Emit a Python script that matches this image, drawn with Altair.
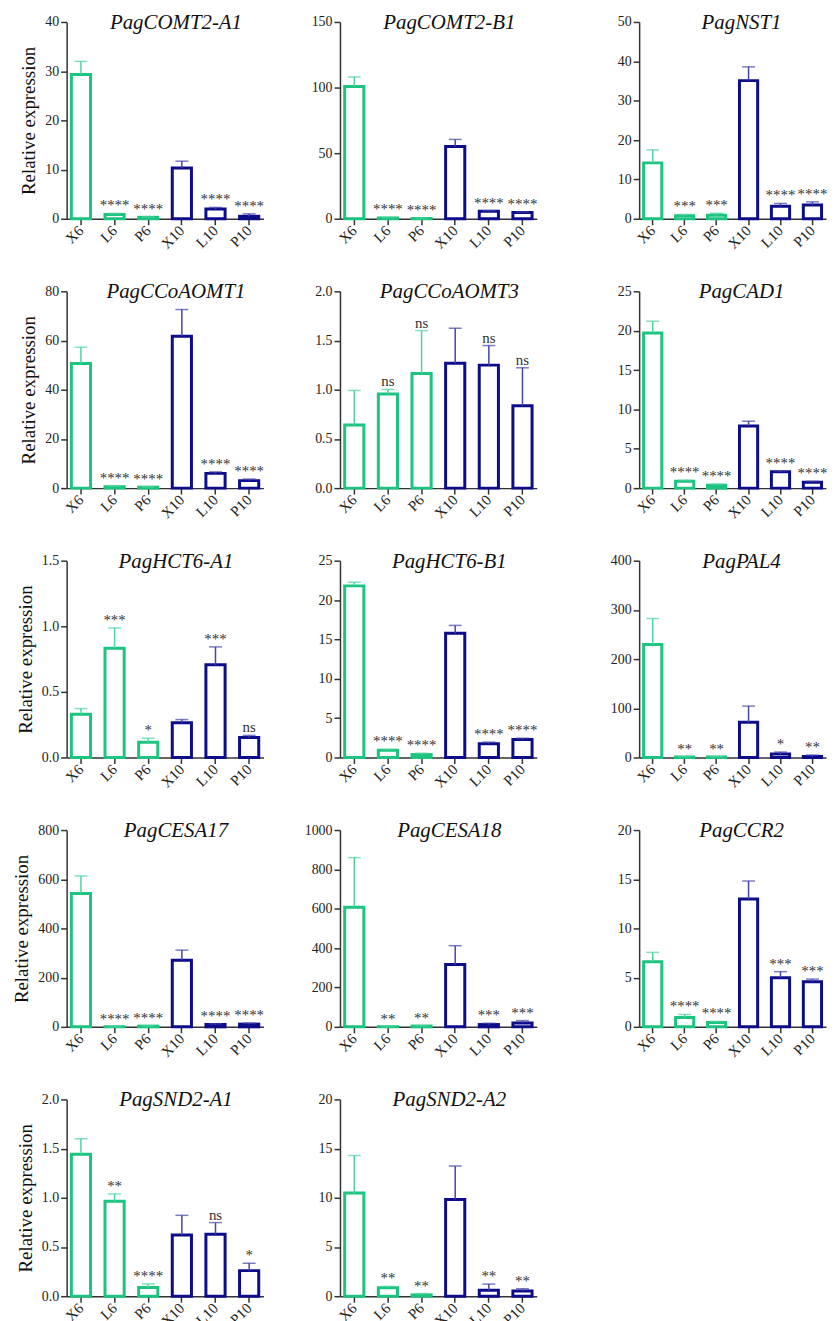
import altair as alt
import pandas as pd
import numpy as np

categories = ["X6", "L6", "P6", "X10", "L10", "P10"]
groups = ["6", "6", "6", "10", "10", "10"]

genes = ["PagCOMT2-A1", "PagCOMT2-B1", "PagNST1",
         "PagCCoAOMT1", "PagCCoAOMT3", "PagCAD1",
         "PagHCT6-A1", "PagHCT6-B1", "PagPAL4",
         "PagCESA17", "PagCESA18", "PagCCR2",
         "PagSND2-A1", "PagSND2-A2"]

means = [
    [29.3, 0.85, 0.3, 10.3, 2.0, 0.5],
    [100.9, 0.5, 0.2, 55.1, 5.7, 4.7],
    [14.2, 0.8, 0.9, 35.1, 3.2, 3.5],
    [50.7, 0.6, 0.4, 61.7, 6.0, 3.05],
    [0.642, 0.956, 1.166, 1.27, 1.25, 0.838],
    [19.7, 0.87, 0.37, 7.9, 2.07, 0.75],
    [0.33, 0.832, 0.117, 0.264, 0.706, 0.152],
    [21.8, 0.91, 0.37, 15.78, 1.74, 2.28],
    [229.6, 1.0, 1.0, 71.5, 6.9, 2.1],
    [541.6, 0.5, 3.0, 270.8, 9.7, 11.0],
    [607.7, 0.5, 4.0, 317.2, 11.7, 20.0],
    [6.61, 0.96, 0.43, 12.99, 4.98, 4.58],
    [1.442, 0.964, 0.088, 0.623, 0.629, 0.26],
    [10.48, 0.86, 0.13, 9.82, 0.6, 0.53],
]

uppers = [
    [32.0, 1.1, 0.35, 11.7, 2.3, 1.0],
    [108.1, 1.0, 0.3, 60.5, 6.2, 5.2],
    [17.5, 1.1, 1.4, 38.6, 3.9, 4.3],
    [57.3, 0.8, 0.5, 72.6, 6.6, 3.7],
    [0.993, 1.003, 1.601, 1.625, 1.449, 1.223],
    [21.2, 1.0, 0.5, 8.5, 2.2, 0.87],
    [0.373, 0.987, 0.147, 0.289, 0.843, 0.168],
    [22.26, 1.04, 0.54, 16.78, 1.95, 2.45],
    [282.5, 1.5, 1.5, 104.5, 11.0, 4.8],
    [613.5, 1.0, 4.0, 312.0, 12.4, 15.2],
    [859.8, 1.0, 6.0, 412.4, 18.4, 31.7],
    [7.57, 1.26, 0.56, 14.82, 5.61, 4.85],
    [1.6, 1.039, 0.125, 0.822, 0.748, 0.335],
    [14.3, 1.0, 0.27, 13.23, 1.23, 0.76],
]

sigs = [
    ["", "****", "****", "", "****", "****"],
    ["", "****", "****", "", "****", "****"],
    ["", "***", "***", "", "****", "****"],
    ["", "****", "****", "", "****", "****"],
    ["", "ns", "ns", "", "ns", "ns"],
    ["", "****", "****", "", "****", "****"],
    ["", "***", "*", "", "***", "ns"],
    ["", "****", "****", "", "****", "****"],
    ["", "**", "**", "", "*", "**"],
    ["", "****", "****", "", "****", "****"],
    ["", "**", "**", "", "***", "***"],
    ["", "****", "****", "", "***", "***"],
    ["", "**", "****", "", "ns", "*"],
    ["", "**", "**", "", "**", "**"],
]

ymax = [40, 150, 50, 80, 2.0, 25, 1.5, 25, 400, 800, 1000, 20, 2.0, 20]
ystep = [10, 50, 10, 20, 0.5, 5, 0.5, 5, 100, 200, 200, 5, 0.5, 5]

GREEN = "#1CC47F"
NAVY = "#0D0D8A"
GREEN_E = "#4FD4A0"
NAVY_E = "#4545A8"
FONT = "Liberation Serif"
W = 198
W3 = 188
H = 198

xaxis = alt.Axis(labelAngle=-45, labelAlign="right", labelBaseline="middle",
                 labelFontSize=15, labelFont=FONT, labelColor="#222",
                 labelPadding=3, tickSize=6, tickWidth=1.5, tickColor="#333",
                 domainColor="#333", domainWidth=1.5, title=None)

panels = []
for i, g in enumerate(genes):
    df = pd.DataFrame({
        "cat": categories,
        "grp": groups,
        "value": means[i],
        "upper": uppers[i],
        "sig": sigs[i],
    })
    n = int(round(ymax[i] / ystep[i]))
    ticks = [float(round(k * ystep[i], 3)) for k in range(n + 1)]
    fmt = ".1f" if ystep[i] < 1 else "d"
    col = i % 3
    pw = W3 if col == 2 else W
    common = dict(values=ticks, format=fmt, labelFontSize=14, labelFont=FONT,
                  labelColor="#222", labelPadding=2, tickSize=6, tickWidth=1.5,
                  tickColor="#333", domainColor="#333", domainWidth=1.5, grid=False,
                  titleFont=FONT, titleFontWeight="normal", titleColor="#111")
    if col == 0:
        yaxis = alt.Axis(title="Relative expression", titleFontSize=19, titlePadding=6, **common)
    elif col == 1:
        yaxis = alt.Axis(title=None, **common)
    else:
        yaxis = alt.Axis(title="Relative expression", titleFontSize=19, titlePadding=14,
                         titleOpacity=0, **common)
    xenc = alt.X("cat:N", sort=categories, axis=xaxis,
                 scale=alt.Scale(paddingInner=0.43, paddingOuter=0.14))
    yscale = alt.Scale(domain=[0, ymax[i]], nice=False, zero=True)
    yv = alt.Y("value:Q", scale=yscale, axis=yaxis)
    yu = alt.Y("upper:Q", scale=yscale, axis=yaxis)
    base = alt.Chart(df)
    bars = base.mark_bar(fill="white", strokeWidth=3).encode(
        x=xenc, y=yv,
        stroke=alt.Stroke("grp:N", scale=alt.Scale(domain=["6", "10"], range=[GREEN, NAVY]), legend=None),
    )
    err = base.mark_rule(strokeWidth=1.5).encode(
        x=xenc, y=yv, y2="upper:Q",
        color=alt.Color("grp:N", scale=alt.Scale(domain=["6", "10"], range=[GREEN_E, NAVY_E]), legend=None),
    )
    cap = base.mark_tick(thickness=1.5, size=13).encode(
        x=xenc, y=yu,
        color=alt.Color("grp:N", scale=alt.Scale(domain=["6", "10"], range=[GREEN_E, NAVY_E]), legend=None),
    )
    txt = base.mark_text(font=FONT, fontSize=15, color="#333", baseline="alphabetic", dy=-3).encode(
        x=xenc, y=yu, text="sig:N",
    )
    tx = 103 if col == 2 else 110
    title = alt.Chart(pd.DataFrame({"t": [g]})).mark_text(
        font=FONT, fontSize=21, fontStyle="italic", color="#111", baseline="alphabetic"
    ).encode(x=alt.value(tx), y=alt.value(7), text="t:N")
    panel = alt.layer(bars, err, cap, txt, title).properties(width=pw, height=H)
    panels.append(panel)

chart = alt.concat(*panels, columns=3, spacing={"row": 30, "column": 40}).configure_view(
    stroke=None
).resolve_scale(y="independent", x="independent", color="independent", stroke="independent"
).properties(padding={"left": 5, "top": 0, "right": 0, "bottom": 5})

chart.save("out.html", embed_options={"renderer": "svg", "actions": False})
